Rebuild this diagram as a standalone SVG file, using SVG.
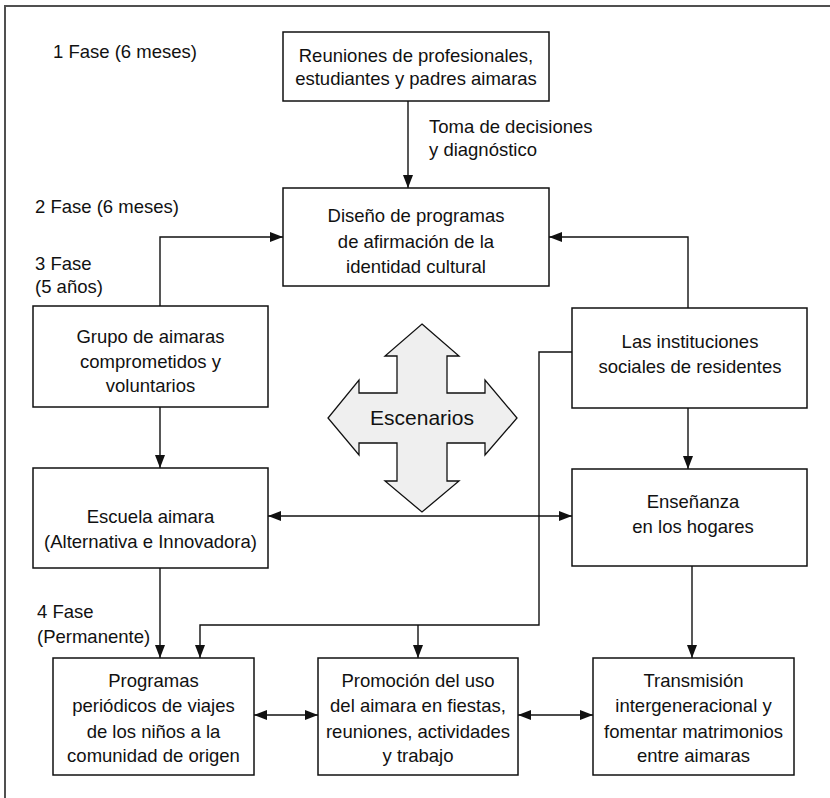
<svg xmlns="http://www.w3.org/2000/svg" width="830" height="798" viewBox="0 0 830 798">
<defs>
<style>
text{font-family:"Liberation Sans",Arial,sans-serif;font-size:18.5px;fill:#111}
.c{text-anchor:middle}
.box{fill:#fff;stroke:#111;stroke-width:1.5}
.con path{fill:none;stroke:#111;stroke-width:1.4}
.frame{fill:none;stroke:#505050;stroke-width:2}
</style>
<marker id="ah" markerUnits="userSpaceOnUse" markerWidth="14" markerHeight="11" refX="13" refY="5" orient="auto-start-reverse">
<path d="M0,0 L13,5 L0,10 z" fill="#111"/>
</marker>
</defs>
<rect width="830" height="798" fill="#fff"/>
<path class="frame" d="M5,798 V6 H830"/>

<g id="labels">
<text x="53" y="58">1 Fase (6 meses)</text>
<text x="429" y="133">Toma de decisiones</text>
<text x="429" y="156">y diagnóstico</text>
<text x="35" y="213">2 Fase (6 meses)</text>
<text x="35" y="270">3 Fase</text>
<text x="35" y="293">(5 años)</text>
<text x="37" y="618">4 Fase</text>
<text x="37" y="643">(Permanente)</text>
</g>

<g id="escenarios">
<polygon points="422,324 459,356 447,356 447,393 485,393 485,380 517,418 485,455 485,443 447,443 447,481 459,481 422,512 385,481 397,481 397,443 359,443 359,455 328,418 359,380 359,393 397,393 397,356 385,356" fill="#efefef" stroke="#111" stroke-width="1.3"/>
<text class="c" x="422" y="425" style="font-size:21px">Escenarios</text>
</g>

<g class="con" id="connectors">
<path d="M408,101 V188" marker-end="url(#ah)"/>
<path d="M160,306 V237 H283" marker-end="url(#ah)"/>
<path d="M688,308 V237 H549" marker-end="url(#ah)"/>
<path d="M688,408 V469" marker-end="url(#ah)"/>
<path d="M160,407 V468" marker-end="url(#ah)"/>
<path d="M268,516 H572" marker-start="url(#ah)" marker-end="url(#ah)"/>
<path d="M160,568 V658" marker-end="url(#ah)"/>
<path d="M572,352 H539 V625 H200 V658" marker-end="url(#ah)"/>
<path d="M418,625 V658" marker-end="url(#ah)"/>
<path d="M692,566 V658" marker-end="url(#ah)"/>
<path d="M254,715 H318" marker-start="url(#ah)" marker-end="url(#ah)"/>
<path d="M518,715 H593" marker-start="url(#ah)" marker-end="url(#ah)"/>
</g>

<g id="reuniones">
<rect class="box" x="283" y="32" width="266" height="69"/>
<text class="c" x="416" y="62">Reuniones de profesionales,</text>
<text class="c" x="416" y="85">estudiantes y padres aimaras</text>
</g>

<g id="diseno">
<rect class="box" x="283" y="188" width="266" height="98"/>
<text class="c" x="416" y="222">Diseño de programas</text>
<text class="c" x="416" y="248">de afirmación de la</text>
<text class="c" x="416" y="273">identidad cultural</text>
</g>

<g id="grupo">
<rect class="box" x="33" y="306" width="235" height="101"/>
<text class="c" x="150.5" y="343">Grupo de aimaras</text>
<text class="c" x="150.5" y="368">comprometidos y</text>
<text class="c" x="150.5" y="392">voluntarios</text>
</g>

<g id="instituciones">
<rect class="box" x="572" y="308" width="235" height="100"/>
<text class="c" x="690" y="348">Las instituciones</text>
<text class="c" x="690" y="373">sociales de residentes</text>
</g>

<g id="escuela">
<rect class="box" x="33" y="468" width="235" height="100"/>
<text class="c" x="150.5" y="523">Escuela aimara</text>
<text class="c" x="150.5" y="548">(Alternativa e Innovadora)</text>
</g>

<g id="ensenanza">
<rect class="box" x="572" y="469" width="235" height="97"/>
<text class="c" x="693" y="508">Enseñanza</text>
<text class="c" x="693" y="533">en los hogares</text>
</g>

<g id="programas">
<rect class="box" x="53" y="658" width="201" height="117"/>
<text class="c" x="153.5" y="687">Programas</text>
<text class="c" x="153.5" y="712">periódicos de viajes</text>
<text class="c" x="153.5" y="738">de los niños a la</text>
<text class="c" x="153.5" y="762">comunidad de origen</text>
</g>

<g id="promocion">
<rect class="box" x="318" y="658" width="200" height="117"/>
<text class="c" x="418" y="687">Promoción del uso</text>
<text class="c" x="418" y="712">del aimara en fiestas,</text>
<text class="c" x="418" y="738">reuniones, actividades</text>
<text class="c" x="418" y="762">y trabajo</text>
</g>

<g id="transmision">
<rect class="box" x="593" y="658" width="201" height="117"/>
<text class="c" x="693.5" y="687">Transmisión</text>
<text class="c" x="693.5" y="712">intergeneracional y</text>
<text class="c" x="693.5" y="738">fomentar matrimonios</text>
<text class="c" x="693.5" y="762">entre aimaras</text>
</g>
</svg>
